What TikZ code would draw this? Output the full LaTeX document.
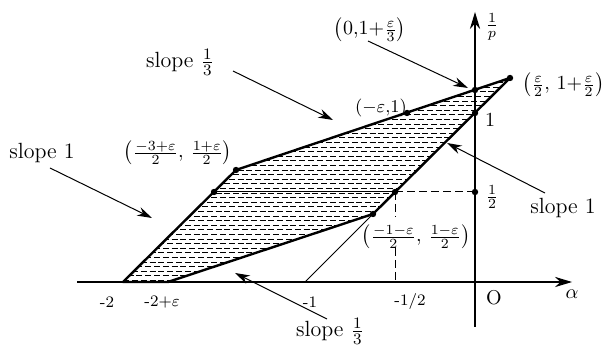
\documentclass[tikz,border=0pt]{standalone}
\usepackage{amsmath}
\usetikzlibrary{arrows.meta, calc}
\tikzset{
  every picture/.style={line width=0.5pt},
  edge/.style={line width=1.2pt, line join=round},
  thin/.style={line width=0.5pt},
  dot/.style={circle, fill, inner sep=0pt, minimum size=3.2pt},
  arrow/.style={-{Stealth[length=2.6mm, width=1.6mm]}, line width=0.5pt},
  axis/.style={-{Stealth[length=3mm, width=1.8mm]}, line width=0.6pt},
  hatch/.style={line width=0.55pt, dash pattern=on 3pt off 1.4pt},
  guide/.style={line width=0.5pt, dash pattern=on 4pt off 2pt},
  note/.style={inner sep=1pt},
  slopenote/.style={inner sep=1pt, font=\fontsize{11}{13}\selectfont},
  tick/.style={font=\footnotesize, inner sep=1pt},
}

\begin{document}
\begin{tikzpicture}[x=0.5pt, y=0.5pt]
  \useasboundingbox (0,0) rectangle (603,346);
  % corners of the region
  \coordinate (A) at (123,64);
  \coordinate (B) at (168,64);
  \coordinate (C) at (373,132);
  \coordinate (D) at (395,154);
  \coordinate (E) at (475,233);
  \coordinate (F) at (510,268);
  \coordinate (G) at (475,256);
  \coordinate (H) at (407,233);
  \coordinate (I) at (236,176);
  \coordinate (J) at (214,154);
  \coordinate (P) at (475,154);
  \coordinate (K) at (305,64);
  \coordinate (Da) at (395,129);
  \coordinate (Db) at (395,98);
  \coordinate (Dx) at (395,64);
  % hatching
  \begin{scope}
    \clip (A) -- (B) -- (C) -- (F) -- (I) -- cycle;
    \foreach \y [count=\i] in {65.5,70.1,...,272} {
      \pgfmathsetmacro{\ph}{mod(\i,2)*2.2}
      \draw[hatch, dash phase=\ph pt] (110,\y) -- (520,\y);
    }
  \end{scope}
  % axes
  \coordinate (xl) at (77,64);
  \coordinate (xr) at (572,64);
  \coordinate (yb) at (475,19);
  \coordinate (yt) at (475,334);
  \draw[axis] (xl) -- (xr);
  \draw[axis] (yb) -- (yt);
  % helper lines
  \draw[thin] (K) -- (C);
  \draw[thin] (J) -- (D);
  \draw[guide] (D) -- (P);
  \draw[guide] (D) -- (Da);
  \draw[guide] (Db) -- (Dx);
  % boundary
  \draw[edge] (A) -- (B) -- (C) -- (F) -- (I) -- cycle;
  \foreach \p in {C,D,E,F,G,H,I,J,P} \node[dot] at (\p) {};
  % axis labels
  \node[tick] (tm2) at (107,44) {-2};
  \node[tick] (tm2e) at (162,44) {-2+$\varepsilon$};
  \node[tick] (tm1) at (310,44) {-1};
  \node[tick] (tmh) at (410,44) {-1/2};
  \node (orig) at (494,48) {O};
  \node (alpha) at (572,52) {$\alpha$};
  \node (invp) at (492,319) {$\frac{1}{p}$};
  \node[note] (one) at (490,226) {1};
  \node[note] (half) at (492,149) {$\frac{1}{2}$};
  % point labels
  \node[note] (labI) at (178,193) {$\left(\frac{-3+\varepsilon}{2},\,\frac{1+\varepsilon}{2}\right)$};
  \node[note, inner sep=0pt] (labG) at (370,316) {$\left(0{,}1{+}\frac{\varepsilon}{3}\right)$};
  \node[note, font=\small] (labH) at (381,238) {$(-\varepsilon{,}1)$};
  \node[note, anchor=west] (labF) at (520,261) {$\left(\frac{\varepsilon}{2},\,1{+}\frac{\varepsilon}{2}\right)$};
  \node[note] (labC) at (416,109) {$\left(\frac{-1-\varepsilon}{2},\,\frac{1-\varepsilon}{2}\right)$};
  % slope labels
  \node[slopenote] (s1) at (180,284) {slope $\frac{1}{3}$};
  \node[slopenote] (s2) at (42,193) {slope 1};
  \node[slopenote] (s3) at (563,138) {slope 1};
  \node[slopenote] (s4) at (330,15) {slope $\frac{1}{3}$};
  \coordinate (s1t) at (333,226);
  \coordinate (s2t) at (152,128);
  \coordinate (s3t) at (447,203);
  \coordinate (s4t) at (235,73);
  \coordinate (gt) at (468,258);
  \draw[arrow] (233,275) -- (s1t);
  \draw[arrow] (50,178) -- (s2t);
  \draw[arrow] (545,153) -- (s3t);
  \draw[arrow] (327,27) -- (s4t);
  \draw[arrow] (368,305) -- (gt);
\end{tikzpicture}
\end{document}
